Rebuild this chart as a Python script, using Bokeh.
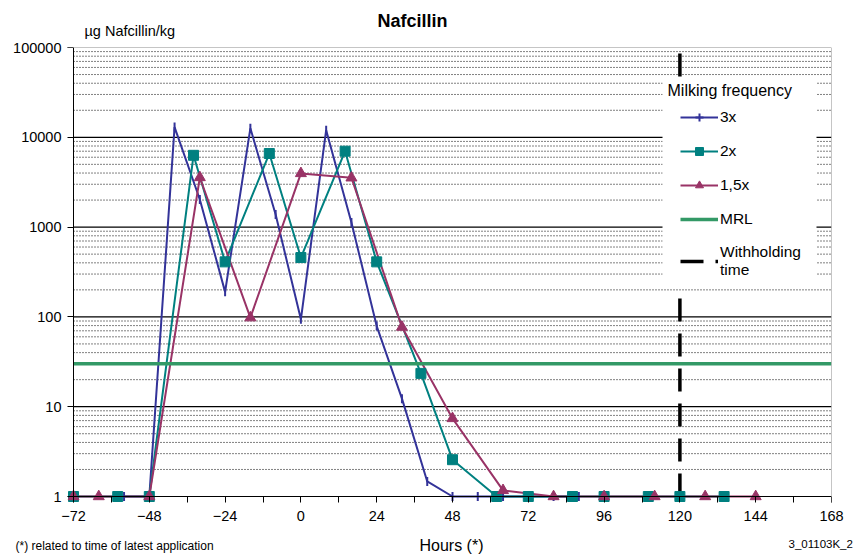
import numpy as np
from bokeh.plotting import figure
from bokeh.layouts import column
from bokeh.models import (Plot, Range1d, FixedTicker, PrintfTickFormatter, Span, Label,
                          BoxAnnotation, Legend, LegendItem)
from bokeh.core.properties import value
from bokeh.embed import file_html
from bokeh.resources import INLINE

# ---------------- data ----------------
TITLE = "Nafcillin"
Y_LABEL = "µg Nafcillin/kg"
X_LABEL = "Hours (*)"
FOOTNOTE = "(*) related to time of latest application"
CODE = "3_01103K_2"
LEGEND_TITLE = "Milking frequency"

X_TICKS = [-72, -48, -24, 0, 24, 48, 72, 96, 120, 144, 168]
Y_TICKS = [1, 10, 100, 1000, 10000, 100000]

HOURS_3X = [-56, -48, -40, -32, -24, -16, -8, 0, 8, 16, 24, 32, 40, 48, 56, 64, 72, 80, 88]
VAL_3X = [1, 1, 13000, 2030, 190, 12600, 1380, 94, 12000, 1125, 79, 12.3, 1.47, 1, 1, 1, 1, 1, 1]

HOURS_2X = [-72, -58, -48, -34, -24, -10, 0, 14, 24, 38, 48, 62, 72, 86, 96, 110, 120, 134]
VAL_2X = [1, 1, 1, 6300, 410, 6600, 458, 7000, 410, 23.5, 2.57, 1, 1, 1, 1, 1, 1, 1]

HOURS_15X = [-72, -64, -48, -32, -16, 0, 16, 32, 48, 64, 80, 96, 112, 128, 144]
VAL_15X = [1, 1, 1, 3570, 98, 3960, 3540, 77, 7.4, 1.17, 1, 1, 1, 1, 1]

MRL = 30
WITHHOLDING_H = 120

SERIES_LABELS = ["3x", "2x", "1,5x", "MRL", "Withholding\ntime"]

# ---------------- style ----------------
BLUE = "#333399"
TEAL = "#008080"
PLUM = "#993366"
GREEN = "#339966"
FONT = "Liberation Sans"

W, H = 857, 558
MAIN_H = 533
BOT_H = H - MAIN_H
F_L, F_R, F_T, F_B = 67, 831, 47, 502
AXIS_PAD = 6

x_span = X_TICKS[-1] - X_TICKS[0]
x_start = X_TICKS[0] - AXIS_PAD * x_span / (F_R - F_L - AXIS_PAD)
dec = np.log10(Y_TICKS[-1] / Y_TICKS[0])
y_start = Y_TICKS[0] * 10 ** (-AXIS_PAD * dec / (F_B - F_T - AXIS_PAD))

p = figure(width=W, height=MAIN_H, x_range=Range1d(x_start, X_TICKS[-1]),
           y_range=Range1d(y_start, Y_TICKS[-1]), y_axis_type="log",
           output_backend="svg", toolbar_location=None, title=None,
           min_border_left=F_L, min_border_right=W - F_R,
           min_border_top=F_T, min_border_bottom=MAIN_H - F_B)
p.outline_line_color = None
p.xgrid.visible = False
p.ygrid.visible = False

minor_x = [(a + b) / 2 for a, b in zip(X_TICKS[:-1], X_TICKS[1:])]
p.xaxis.ticker = FixedTicker(ticks=X_TICKS, minor_ticks=minor_x)
p.yaxis.ticker = FixedTicker(ticks=Y_TICKS, minor_ticks=[])
p.yaxis.formatter = PrintfTickFormatter(format="%d")
for ax in (p.xaxis, p.yaxis):
    ax.axis_line_color = None
    ax.major_tick_in = AXIS_PAD
    ax.major_tick_out = 0
    ax.minor_tick_in = AXIS_PAD
    ax.minor_tick_out = 0
    ax.major_tick_line_color = "black"
    ax.minor_tick_line_color = "black"
    ax.major_label_text_font = FONT
    ax.major_label_text_font_size = "14.5px"
    ax.major_label_text_color = "black"
p.xaxis.major_label_standoff = 8
p.yaxis.major_label_standoff = 6

# grid lines
minor_vals = [m * 10 ** k for k in range(int(round(dec))) for m in range(2, 10)]
major_vals = Y_TICKS[1:-1]
p.segment(x0=[X_TICKS[0]] * len(minor_vals), x1=[X_TICKS[-1]] * len(minor_vals),
          y0=minor_vals, y1=minor_vals, line_color="black", line_width=1, line_dash="1 2")
p.segment(x0=[X_TICKS[0]] * len(major_vals), x1=[X_TICKS[-1]] * len(major_vals),
          y0=major_vals, y1=major_vals, line_color="black", line_width=1.2)

# axis lines and border
p.add_layout(Span(location=X_TICKS[0], dimension="height", line_color="black", line_width=1))
p.add_layout(Span(location=Y_TICKS[0], dimension="width", line_color="black", line_width=1))
p.add_layout(Span(location=Y_TICKS[-1], dimension="width", line_color="#8c8c8c", line_width=1))
p.add_layout(Span(location=X_TICKS[-1], dimension="height", line_color="#8c8c8c", line_width=1))

# series lines
l3 = p.line(HOURS_3X, VAL_3X, line_color=BLUE, line_width=2)
l2 = p.line(HOURS_2X, VAL_2X, line_color=TEAL, line_width=2)
l15 = p.line(HOURS_15X, VAL_15X, line_color=PLUM, line_width=2)
lm = p.line([X_TICKS[0], X_TICKS[-1]], [MRL, MRL], line_color=GREEN, line_width=3.5)
lw = p.line([WITHHOLDING_H, WITHHOLDING_H], [Y_TICKS[0], Y_TICKS[-1]], line_color="black",
            line_width=3.5, line_dash="23 12")

# markers
m3 = p.scatter(HOURS_3X, VAL_3X, marker="dash", angle=np.pi / 2, size=9,
               line_color=BLUE, line_width=2)
m3_leg = p.scatter(x=[np.nan], y=[np.nan], marker="cross", size=9, line_color=BLUE, line_width=2)
m2 = p.scatter(HOURS_2X, VAL_2X, marker="square", size=10, fill_color=TEAL, line_color=TEAL)
m15 = p.scatter(HOURS_15X, VAL_15X, marker="triangle", size=11, fill_color=PLUM, line_color=PLUM)

# legend (white box, title, items)
p.add_layout(BoxAnnotation(left=662, right=816, top=78, bottom=287,
                           left_units="canvas", right_units="canvas",
                           top_units="canvas", bottom_units="canvas",
                           fill_color="white", fill_alpha=1, line_color=None))
p.add_layout(Label(x=667, y=90, x_units="canvas", y_units="canvas", text=LEGEND_TITLE,
                   text_font=FONT, text_font_size="16px", text_baseline="middle",
                   text_color="black"))
legend = Legend(items=[LegendItem(label=SERIES_LABELS[0], renderers=[l3, m3_leg]),
                       LegendItem(label=SERIES_LABELS[1], renderers=[l2, m2]),
                       LegendItem(label=SERIES_LABELS[2], renderers=[l15, m15]),
                       LegendItem(label=SERIES_LABELS[3], renderers=[lm]),
                       LegendItem(label=SERIES_LABELS[4], renderers=[lw])],
                location=(680 - F_L, 223), padding=0, margin=0, spacing=14,
                glyph_width=38, glyph_height=20, label_height=20, label_standoff=2,
                label_text_font=FONT, label_text_font_size="15.5px", label_text_color="black",
                background_fill_alpha=0, border_line_color=None)
p.add_layout(legend)

# title and unit, in the top side panel
p.add_layout(Label(x=412, y=20, x_units="canvas", y_units="canvas", text=TITLE,
                   text_font=FONT, text_font_size="18px", text_font_style="bold",
                   text_align="center", text_baseline="middle", text_color="black"), "above")
p.add_layout(Label(x=84, y=30, x_units="canvas", y_units="canvas", text=Y_LABEL,
                   text_font=FONT, text_font_size="14.5px", text_baseline="middle",
                   text_color="black"), "above")

# ---------- bottom strip: axis title + notes ----------
strip_kw = dict(width=W, height=BOT_H, x_range=Range1d(0, W), y_range=Range1d(BOT_H, 0),
                output_backend="svg", toolbar_location=None, title=None,
                x_axis_location=None, y_axis_location=None, min_border=0,
                outline_line_color=None)
if "frame_align" in Plot.properties():
    strip_kw["frame_align"] = False
bot = figure(**strip_kw)
bot.xgrid.visible = False
bot.ygrid.visible = False
yc = 545 - MAIN_H
bot.text(x=[(F_L + F_R) / 2 + 2], y=[yc], text=[X_LABEL], text_font=value(FONT),
         text_font_size="16px", text_align="center", text_baseline="middle", text_color="black")
bot.text(x=[15], y=[yc], text=[FOOTNOTE], text_font=value(FONT), text_font_size="12px",
         text_align="left", text_baseline="middle", text_color="black")
bot.text(x=[788], y=[yc - 2], text=[CODE], text_font=value(FONT), text_font_size="11.5px",
         text_align="left", text_baseline="middle", text_color="black")

layout = column(p, bot, spacing=0)
open("out.html", "w").write(file_html(layout, INLINE))
